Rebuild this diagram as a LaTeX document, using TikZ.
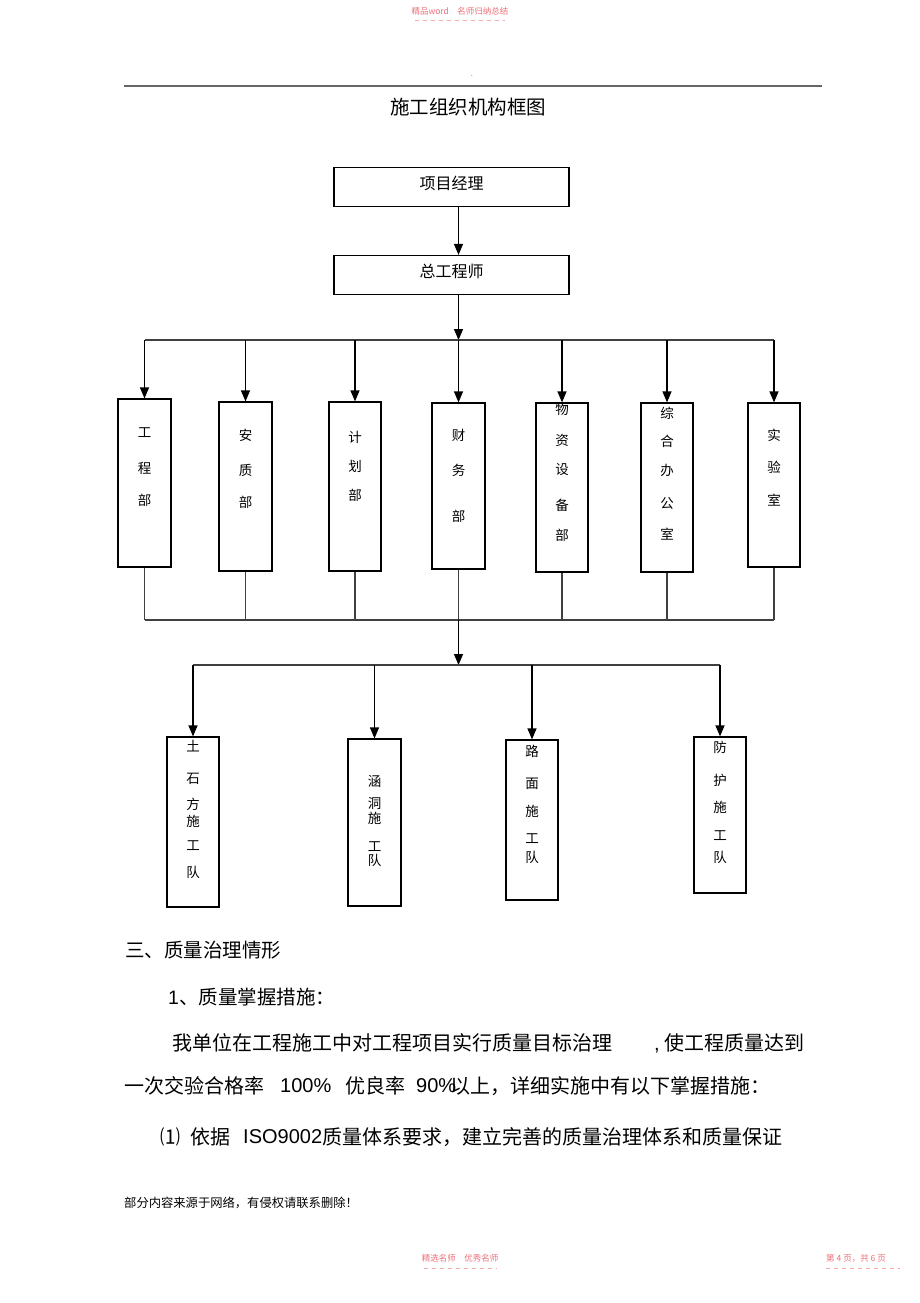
\documentclass[tikz,border=0pt]{standalone}
\usepackage{fontspec}
\setmainfont{Liberation Sans}
\newfontfamily\cjk{Noto Sans CJK SC}
\usetikzlibrary{arrows.meta}
\definecolor{wmpink}{RGB}{236,112,122}

\tikzset{
	head/.style={draw, line width=1.2pt, minimum width=235pt, minimum height=39pt, inner sep=0pt,
		text height=14pt, text depth=10pt, font=\cjk\fontsize{16}{16}\selectfont},
	dept/.style={draw, line width=1.2pt, minimum width=53pt, inner sep=0pt},
	vch/.style={inner sep=0pt, font=\cjk\fontsize{13.5}{13.5}\selectfont},
	link/.style={line width=1.2pt, black!75},
	arr/.style={line width=1.2pt, black, -{Triangle[width=9pt,length=11pt]}},
	body/.style={anchor=west, inner sep=0pt, font=\cjk\fontsize{20}{20}\selectfont},
	latin/.style={anchor=west, inner sep=0pt, font=\rmfamily\fontsize{20}{20}\selectfont},
	wm/.style={inner sep=0pt, text=wmpink, font=\cjk\fontsize{8.5}{8.5}\selectfont},
	wmline/.style={wmpink!60, line width=0.8pt, dash pattern=on 4pt off 4pt}
}

\begin{document}
\begin{tikzpicture}[x=1pt, y=-1pt]
	\useasboundingbox[fill=white] (0,0) rectangle (920,1303);
	% page header
	\node[wm] (wmtop) at (460,11) {精品word\quad 名师归纳总结};
	\draw[wmline] (415,20) -- (505,20);
	\node[inner sep=0pt, font=\fontsize{6}{6}\selectfont] (dot) at (472,76) {.};
	\draw[black!60, line width=1.2pt] (124,86) -- (822,86);
	\node[font=\cjk\fontsize{19.5}{19.5}\selectfont] (title) at (468,107) {施工组织机构框图};
	
	% top of the chart
	\node[head] (pm) at (451.5,187) {项目经理};
	\node[head] (ce) at (451.5,275) {总工程师};
	
	% departments
	\node[dept, minimum height=168pt] (gcb) at (144.5,483) {};
	\node[dept, minimum height=169pt] (azb) at (245.5,486.5) {};
	\node[dept, minimum height=169pt, minimum width=52pt] (jhb) at (355,486.5) {};
	\node[dept, minimum height=166pt] (cwb) at (458.5,486) {};
	\node[dept, minimum height=169pt, minimum width=52pt] (wzb) at (562,487.5) {};
	\node[dept, minimum height=169pt, minimum width=52pt] (zhb) at (667,487.5) {};
	\node[dept, minimum height=164pt, minimum width=52pt] (sys) at (774,485) {};
	\foreach \ch/\yy in {工/433, 程/468, 部/500}
		\node[vch] (gcb-\yy) at (144.5,\yy) {\ch};
	\foreach \ch/\yy in {安/435, 质/470, 部/502}
		\node[vch] (azb-\yy) at (245.5,\yy) {\ch};
	\foreach \ch/\yy in {计/437, 划/466, 部/495}
		\node[vch] (jhb-\yy) at (355,\yy) {\ch};
	\foreach \ch/\yy in {财/435, 务/470, 部/516}
		\node[vch] (cwb-\yy) at (458.5,\yy) {\ch};
	\foreach \ch/\yy in {物/409, 资/440, 设/470, 备/505, 部/535}
		\node[vch] (wzb-\yy) at (562,\yy) {\ch};
	\foreach \ch/\yy in {综/413, 合/441, 办/470, 公/503, 室/534}
		\node[vch] (zhb-\yy) at (667,\yy) {\ch};
	\foreach \ch/\yy in {实/435, 验/467, 室/500}
		\node[vch] (sys-\yy) at (774,\yy) {\ch};
	
	% teams
	\node[dept, minimum height=170pt, minimum width=52pt] (tsf) at (193,822) {};
	\node[dept, minimum height=167pt] (hd) at (374.5,822.5) {};
	\node[dept, minimum height=160pt, minimum width=52pt] (lm) at (532,820) {};
	\node[dept, minimum height=156pt, minimum width=52pt] (fh) at (720,815) {};
	\foreach \ch/\yy in {土/746, 石/779, 方/804, 施/821, 工/846, 队/872}
		\node[vch] (tsf-\yy) at (193,\yy) {\ch};
	\foreach \ch/\yy in {涵/781, 洞/803, 施/818, 工/847, 队/860}
		\node[vch] (hd-\yy) at (374.5,\yy) {\ch};
	\foreach \ch/\yy in {路/751, 面/784, 施/811, 工/839, 队/857}
		\node[vch] (lm-\yy) at (532,\yy) {\ch};
	\foreach \ch/\yy in {防/747, 护/780, 施/807, 工/836, 队/857}
		\node[vch] (fh-\yy) at (720,\yy) {\ch};
	
	% connectors
	\coordinate (bus1) at (458.5,340);
	\coordinate (bus2) at (458.5,620);
	\coordinate (bus3) at (458.5,665);
	\draw[arr] (pm.south -| cwb.north) -- (ce.north -| cwb.north);
	\draw[arr] (ce.south -| cwb.north) -- (bus1);
	\draw[link] (gcb.north |- bus1) -- (sys.north |- bus1);
	\foreach \d in {gcb,azb,jhb,cwb,wzb,zhb,sys}
		\draw[arr] (\d.north |- bus1) -- (\d.north);
	\foreach \d in {gcb,azb,jhb,cwb,wzb,zhb,sys}
		\draw[link] (\d.south) -- (\d.south |- bus2);
	\draw[link] (gcb.south |- bus2) -- (sys.south |- bus2);
	\draw[arr] (bus2) -- (bus3);
	\draw[link] (tsf.north |- bus3) -- (fh.north |- bus3);
	\foreach \t in {tsf,hd,lm,fh}
		\draw[arr] (\t.north |- bus3) -- (\t.north);
	
	% text below the chart
	\node[body, font=\cjk\fontsize{19.5}{19.5}\selectfont] (sec3) at (125,950) {三、质量治理情形};
	\node[body, font=\cjk\fontsize{19.5}{19.5}\selectfont] (sub1) at (168,997) {{\rmfamily 1}、质量掌握措施：};
	\node[body] (p1a) at (172,1043) {我单位在工程施工中对工程项目实行质量目标治理};
	\node[body] (p1b) at (654,1043) {{\rmfamily ,} 使工程质量达到};
	\node[body] (p2a) at (124,1086) {一次交验合格率};
	\node[latin] (p2b) at (280,1086) {100\%};
	\node[body] (p2c) at (345,1086) {优良率};
	\node[latin] (p2d) at (416,1086) {90\%};
	\node[body] (p2e) at (450,1086) {以上，详细实施中有以下掌握措施：};
	\node[body] (p3a) at (160,1137) {⑴};
	\node[body] (p3b) at (190,1137) {依据};
	\node[latin] (p3c) at (243,1137) {ISO9002};
	\node[body] (p3d) at (322,1137) {质量体系要求，建立完善的质量治理体系和质量保证};
	\node[anchor=west, inner sep=0pt, font=\cjk\fontsize{12.3}{12.3}\selectfont] (note) at (124,1203) {部分内容来源于网络，有侵权请联系删除！};
	
	% page footer
	\node[wm] (wmbot) at (460,1258) {精选名师\quad 优秀名师};
	\draw[wmline] (424,1268) -- (497,1268);
	\node[wm] (pageno) at (856,1258) {第 4 页，共 6 页};
	\draw[wmline] (826,1268) -- (900,1268);
\end{tikzpicture}
\end{document}
